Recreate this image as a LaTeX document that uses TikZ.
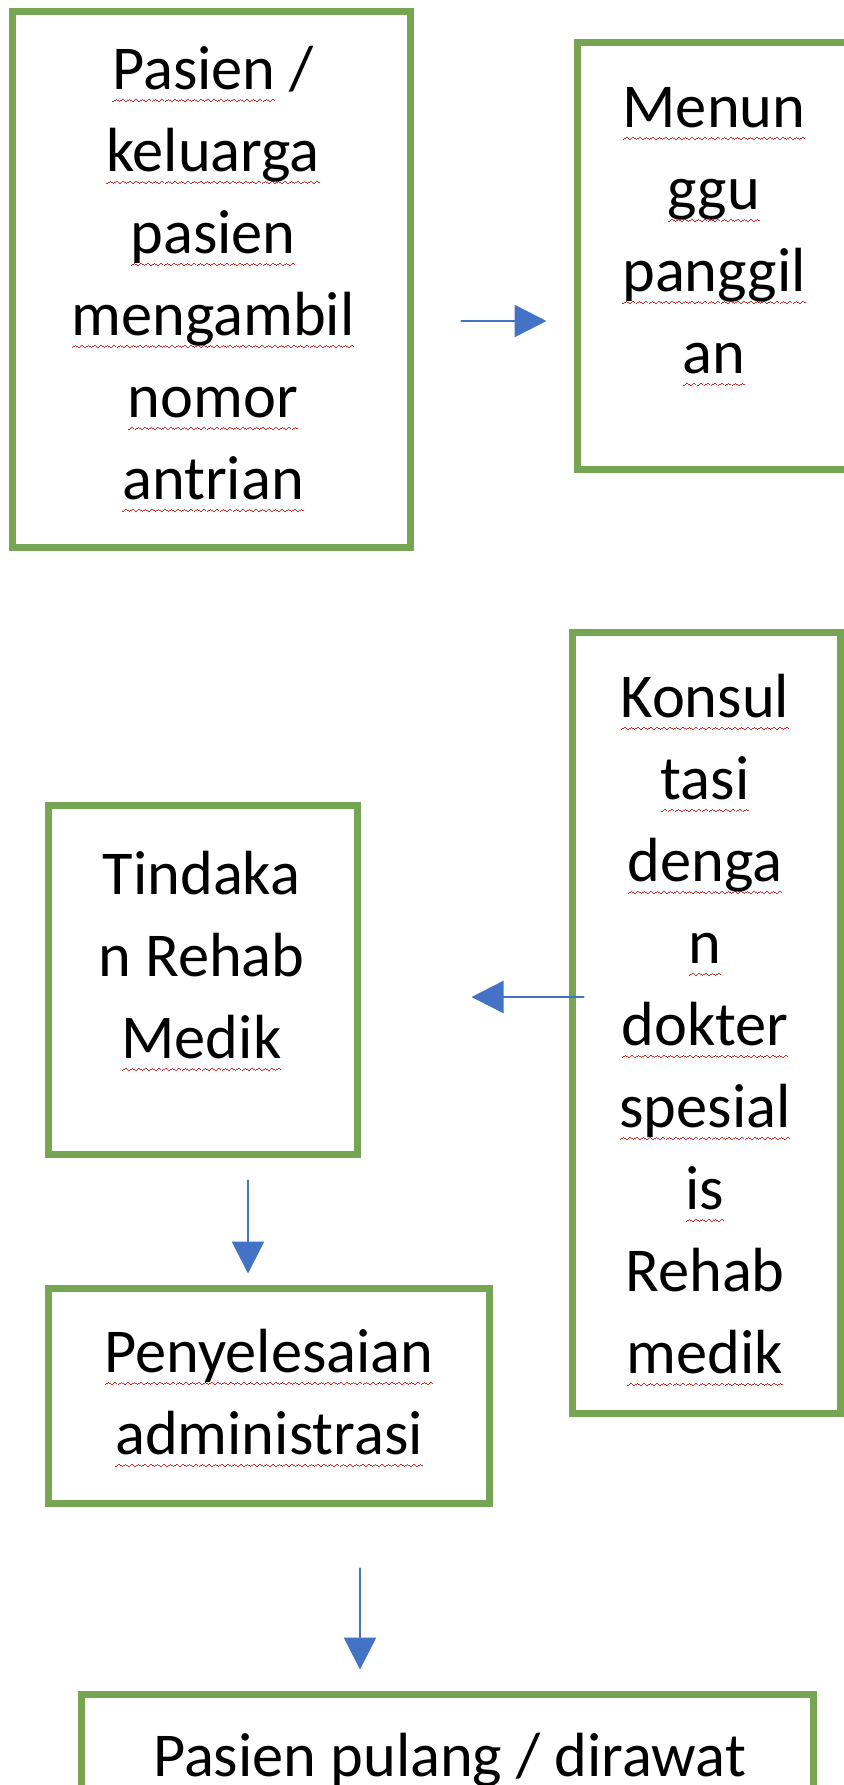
\documentclass[tikz,border=0pt]{standalone}
\usepackage{fontspec}
\setmainfont{Carlito}
\usetikzlibrary{arrows.meta,positioning}
\definecolor{kotakhijau}{RGB}{118,166,84}
\definecolor{panahbiru}{RGB}{68,114,196}
\definecolor{ejaanmerah}{RGB}{214,40,40}
\newsavebox{\ejaanbox}
\newcommand{\gelombang}{\hbox{\rule{0.8pt}{0.6pt}\rule[0.45pt]{0.8pt}{0.6pt}\rule[0.9pt]{0.8pt}{0.6pt}\rule[0.45pt]{0.8pt}{0.6pt}}}
\newcommand{\ejaan}[1]{\sbox{\ejaanbox}{#1}\rlap{\color{ejaanmerah}\lower6pt\hbox to\wd\ejaanbox{\xleaders\gelombang\hfil}}\usebox{\ejaanbox}}

\begin{document}
\begin{tikzpicture}[x=0.5pt,y=-0.5pt,line cap=round,line join=round,
  kotak/.style={draw=kotakhijau,line width=3.5pt,line cap=butt,line join=miter,inner sep=0pt},
  teks/.style={align=center,inner sep=0pt,anchor=north,font=\fontsize{31.2}{41}\selectfont},
  panah/.style={color=panahbiru,line width=1.25pt,-{Triangle[length=16pt,width=16pt]}}]
 \path[use as bounding box,clip] (0,0) rectangle (844,1785);
 % kotak alur
 \node[kotak,minimum width=199pt,minimum height=268pt] (antri) at (211,279) {};
 \node[kotak,minimum width=137pt,minimum height=213.5pt] (tunggu) at (714,255.5) {};
 \node[kotak,minimum width=134pt,minimum height=390.5pt] (konsul) at (706,1022.5) {};
 \node[kotak,minimum width=154.5pt,minimum height=174.5pt] (tindak) at (202.5,979.5) {};
 \node[kotak,minimum width=220.5pt,minimum height=107.5pt] (admin) at (268.5,1395.5) {};
 \node[kotak,minimum width=366pt,minimum height=150pt] (pulang) at (447,1844) {};
 % teks
 \node[teks] (antri-t) at (213,46)
  {\ejaan{Pasien} /\\ \ejaan{keluarga}\\ \ejaan{pasien}\\ \ejaan{mengambil}\\ \ejaan{nomor}\\ \ejaan{antrian}};
 \node[teks] (tunggu-t) at (714,87.5)
  {\ejaan{Menun}\\ \ejaan{ggu}\\ \ejaan{panggil}\\ \ejaan{an}};
 \node[teks] (konsul-t) at (705,674)
  {\ejaan{Konsul}\\ \ejaan{tasi}\\ \ejaan{denga}\\ \ejaan{n}\\ \ejaan{dokter}\\ \ejaan{spesial}\\ \ejaan{is}\\ Rehab\\ \ejaan{medik}};
 \node[teks] (tindak-t) at (201.5,851) {Tindaka\\ n Rehab\\ \ejaan{Medik}};
 \node[teks] (admin-t) at (269,1329) {\ejaan{Penyelesaian}\\ \ejaan{administrasi}};
 \node[teks] (pulang-t) at (449.5,1733) {\ejaan{Pasien} \ejaan{pulang} / \ejaan{dirawat}};
 % panah
 \coordinate (p1) at ([xshift=24pt,yshift=-21pt]antri.east);
 \draw[panah,shorten >=13.5pt] (p1) -- (p1 -| tunggu.west);
 \coordinate (p2) at ([yshift=12.75pt]konsul.west);
 \draw[panah,shorten <=-7.5pt,shorten >=55.5pt] (p2) -- (p2 -| tindak.east);
 \coordinate (p3) at ([xshift=22.75pt]tindak.south);
 \draw[panah,shorten <=11.5pt,shorten >=5.5pt] (p3) -- (p3 |- admin.north);
 \coordinate (p4) at ([xshift=45.75pt]admin.south);
 \draw[panah,shorten <=31pt,shorten >=10.5pt] (p4) -- (p4 |- pulang.north);
\end{tikzpicture}
\end{document}
